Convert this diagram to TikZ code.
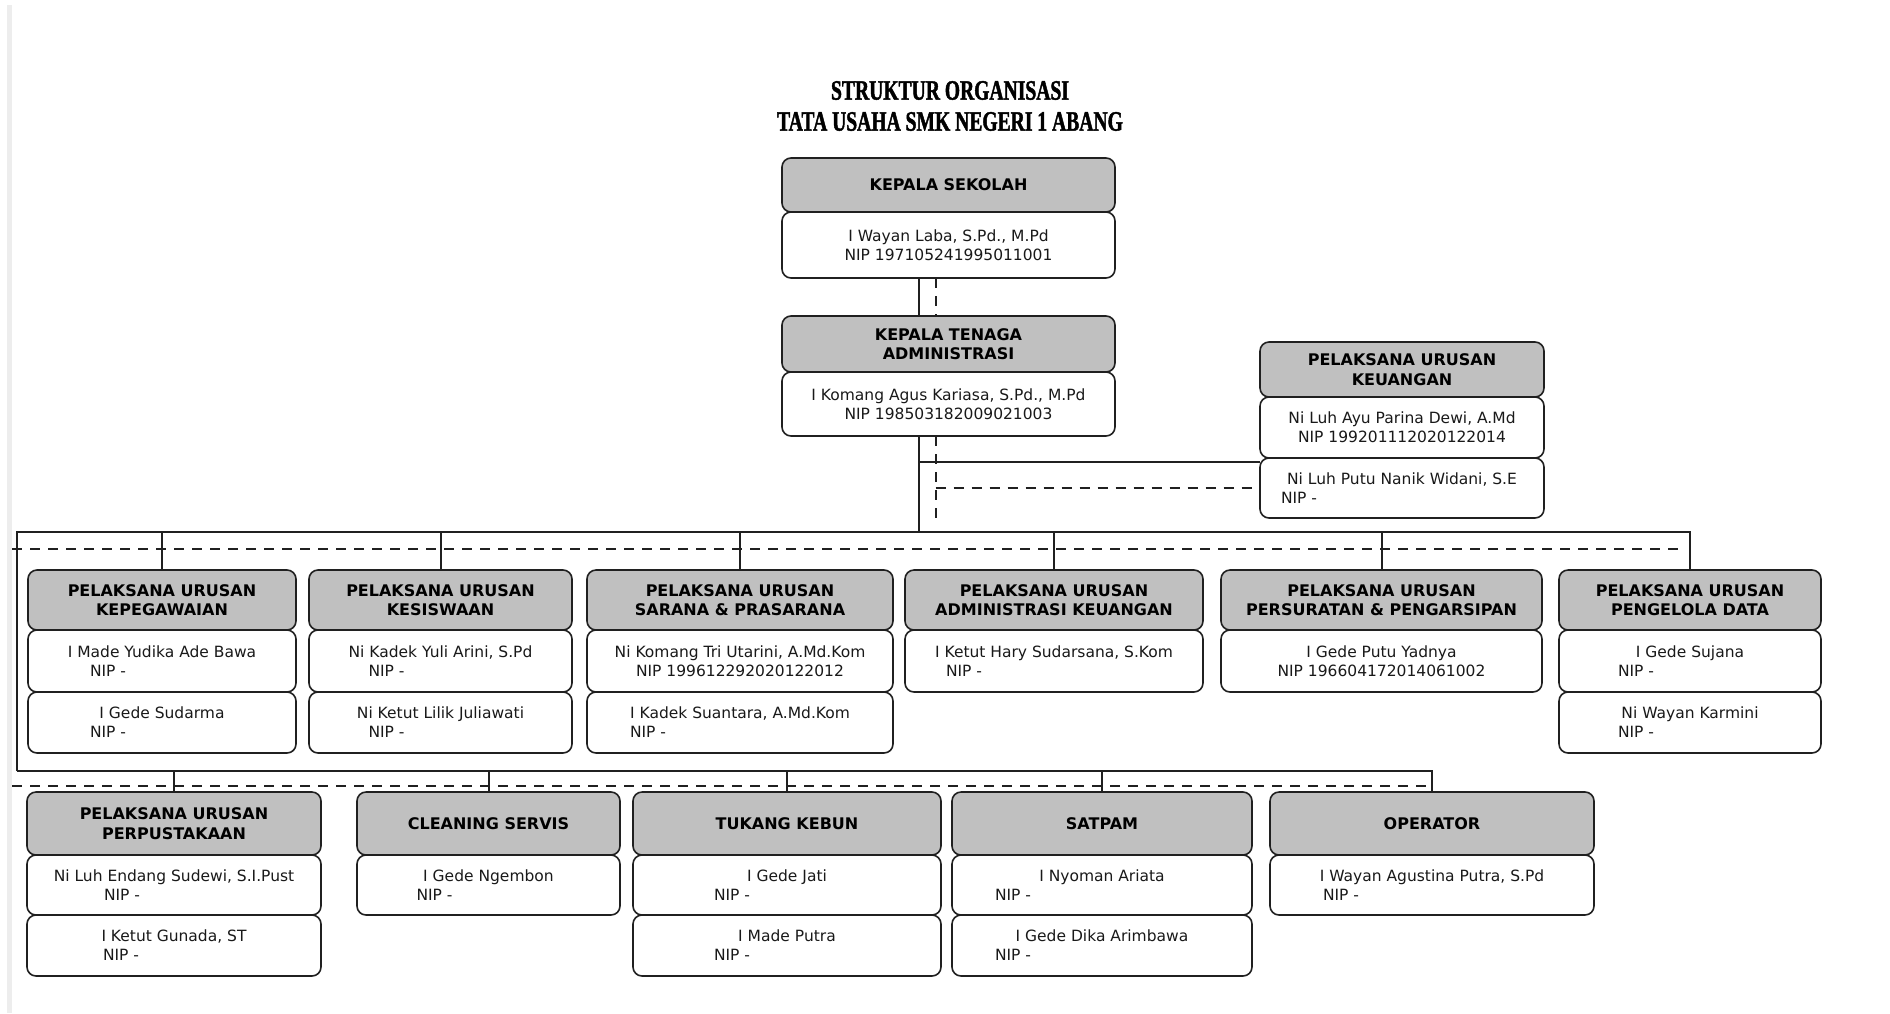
\documentclass[tikz,border=0pt]{standalone}
\usepackage{fontspec}
\setmainfont{DejaVu Sans}
\newfontfamily\judulfont[FakeStretch=0.7,FakeBold=1.5]{Liberation Serif}
\usetikzlibrary{positioning}
\definecolor{abu}{RGB}{192,192,192}
\definecolor{garisc}{RGB}{32,32,32}
\newcommand{\nipat}[1]{\makebox[0pt][l]{\hspace*{#1pt}NIP -}}

\begin{document}
\begin{tikzpicture}[x=1pt,y=-1pt,
  jabatan/.style={draw=garisc, line width=1.6pt, rounded corners=9pt, fill=abu, inner sep=0pt, outer sep=0pt, align=center, font=\fontsize{16}{19.5}\selectfont\bfseries, text=black},
  pejabat/.style={draw=garisc, line width=1.6pt, rounded corners=9pt, fill=white, inner sep=0pt, outer sep=0pt, align=center, font=\fontsize{15.5}{19}\selectfont, text=black!90},
  garis/.style={draw=garisc, line width=2pt},
  putus/.style={garis, dash pattern=on 10pt off 8pt}]
\useasboundingbox (0,0) rectangle (1890,1013);
\draw [black!7, line width=5pt] (9,5) -- (9,1013);

\node [font=\judulfont\fontsize{28}{31}\selectfont\bfseries, align=center] (judul) at (950,106) {STRUKTUR ORGANISASI\\TATA USAHA SMK NEGERI 1 ABANG};

% pimpinan
\node [jabatan, anchor=north west, minimum width=333, minimum height=54] (ks) at (782,158) {KEPALA SEKOLAH};
\node [pejabat, below=0pt of ks, minimum width=333, minimum height=66] (ksb) {I Wayan Laba, S.Pd., M.Pd\\NIP 197105241995011001};
\node [jabatan, anchor=north west, minimum width=333, minimum height=56] (kt) at (782,316) {KEPALA TENAGA\\ADMINISTRASI};
\node [pejabat, below=0pt of kt, minimum width=333, minimum height=64] (ktb) {I Komang Agus Kariasa, S.Pd., M.Pd\\NIP 198503182009021003};

\node [jabatan, anchor=north west, minimum width=284, minimum height=55] (ku) at (1260,342) {PELAKSANA URUSAN\\KEUANGAN};
\node [pejabat, below=0pt of ku, minimum width=284, minimum height=61] (ku1) {Ni Luh Ayu Parina Dewi, A.Md\\NIP 199201112020122014};
\node [pejabat, below=0pt of ku1, minimum width=284, minimum height=60] (ku2) {Ni Luh Putu Nanik Widani, S.E\\\nipat{-121}};

% baris pertama
\node [jabatan, anchor=north west, minimum width=268, minimum height=60] (peg) at (28,570) {PELAKSANA URUSAN\\KEPEGAWAIAN};
\node [pejabat, below=0pt of peg, minimum width=268, minimum height=62] (peg1) {I Made Yudika Ade Bawa\\\nipat{-72}};
\node [pejabat, below=0pt of peg1, minimum width=268, minimum height=61] (peg2) {I Gede Sudarma\\\nipat{-72}};

\node [jabatan, anchor=north west, minimum width=263, minimum height=60] (sis) at (309,570) {PELAKSANA URUSAN\\KESISWAAN};
\node [pejabat, below=0pt of sis, minimum width=263, minimum height=62] (sis1) {Ni Kadek Yuli Arini, S.Pd\\\nipat{-72}};
\node [pejabat, below=0pt of sis1, minimum width=263, minimum height=61] (sis2) {Ni Ketut Lilik Juliawati\\\nipat{-72}};

\node [jabatan, anchor=north west, minimum width=306, minimum height=60] (sar) at (587,570) {PELAKSANA URUSAN\\SARANA \& PRASARANA};
\node [pejabat, below=0pt of sar, minimum width=306, minimum height=62] (sar1) {Ni Komang Tri Utarini, A.Md.Kom\\NIP 199612292020122012};
\node [pejabat, below=0pt of sar1, minimum width=306, minimum height=61] (sar2) {I Kadek Suantara, A.Md.Kom\\\nipat{-110}};

\node [jabatan, anchor=north west, minimum width=298, minimum height=60] (adm) at (905,570) {PELAKSANA URUSAN\\ADMINISTRASI KEUANGAN};
\node [pejabat, below=0pt of adm, minimum width=298, minimum height=62] (adm1) {I Ketut Hary Sudarsana, S.Kom\\\nipat{-108}};

\node [jabatan, anchor=north west, minimum width=321, minimum height=60] (sur) at (1221,570) {PELAKSANA URUSAN\\PERSURATAN \& PENGARSIPAN};
\node [pejabat, below=0pt of sur, minimum width=321, minimum height=62] (sur1) {I Gede Putu Yadnya\\NIP 196604172014061002};

\node [jabatan, anchor=north west, minimum width=262, minimum height=60] (dat) at (1559,570) {PELAKSANA URUSAN\\PENGELOLA DATA};
\node [pejabat, below=0pt of dat, minimum width=262, minimum height=62] (dat1) {I Gede Sujana\\\nipat{-72}};
\node [pejabat, below=0pt of dat1, minimum width=262, minimum height=61] (dat2) {Ni Wayan Karmini\\\nipat{-72}};

% baris kedua
\node [jabatan, anchor=north west, minimum width=294, minimum height=63] (pus) at (27,792) {PELAKSANA URUSAN\\PERPUSTAKAAN};
\node [pejabat, below=0pt of pus, minimum width=294, minimum height=60] (pus1) {Ni Luh Endang Sudewi, S.I.Pust\\\nipat{-70}};
\node [pejabat, below=0pt of pus1, minimum width=294, minimum height=61] (pus2) {I Ketut Gunada, ST\\\nipat{-71}};

\node [jabatan, anchor=north west, minimum width=263, minimum height=63] (cln) at (357,792) {CLEANING SERVIS};
\node [pejabat, below=0pt of cln, minimum width=263, minimum height=60] (cln1) {I Gede Ngembon\\\nipat{-72}};

\node [jabatan, anchor=north west, minimum width=308, minimum height=63] (tkb) at (633,792) {TUKANG KEBUN};
\node [pejabat, below=0pt of tkb, minimum width=308, minimum height=60] (tkb1) {I Gede Jati\\\nipat{-73}};
\node [pejabat, below=0pt of tkb1, minimum width=308, minimum height=61] (tkb2) {I Made Putra\\\nipat{-73}};

\node [jabatan, anchor=north west, minimum width=300, minimum height=63] (stp) at (952,792) {SATPAM};
\node [pejabat, below=0pt of stp, minimum width=300, minimum height=60] (stp1) {I Nyoman Ariata\\\nipat{-107}};
\node [pejabat, below=0pt of stp1, minimum width=300, minimum height=61] (stp2) {I Gede Dika Arimbawa\\\nipat{-107}};

\node [jabatan, anchor=north west, minimum width=324, minimum height=63] (opr) at (1270,792) {OPERATOR};
\node [pejabat, below=0pt of opr, minimum width=324, minimum height=60] (opr1) {I Wayan Agustina Putra, S.Pd\\\nipat{-109}};

% garis komando dan koordinasi
\coordinate (bus1) at (17,532);
\coordinate (bus2) at (17,771);
\coordinate (dash1) at (12,549);
\coordinate (dash2) at (12,786);
\coordinate (ujung) at (935.5,524);
\coordinate (cab) at ([yshift=-4pt]ku2.north west);

\draw [garis] ([xshift=-30pt]ksb.south) -- ([xshift=-30pt]kt.north);
\draw [putus] ([xshift=-13pt]ksb.south) -- ([xshift=-13pt]kt.north);
\draw [garis] ([xshift=-30pt]ktb.south) -- ([xshift=-30pt]ktb.south |- bus1);
\draw [putus] ([xshift=-13pt]ktb.south) -- (ujung);
\draw [garis] ([xshift=-30pt]ktb.south |- cab) -- (cab);
\draw [putus] ([xshift=-13pt]ktb.south |- ku2.west) -- (ku2.west);

\draw [garis] (bus2) -- (bus1) -- (dat.north |- bus1) -- (dat.north);
\foreach \n in {peg,sis,sar,adm,sur}
  \draw [garis] (\n.north |- bus1) -- (\n.north);
\draw [putus] (dash1) -- ([xshift=-6pt]dat.north |- dash1);

\draw [garis] (bus2) -- (opr.north |- bus2) -- (opr.north);
\foreach \n in {pus,cln,tkb,stp}
  \draw [garis] (\n.north |- bus2) -- (\n.north);
\draw [putus] (dash2) -- ([xshift=-4pt]opr.north |- dash2);

\end{tikzpicture}
\end{document}
